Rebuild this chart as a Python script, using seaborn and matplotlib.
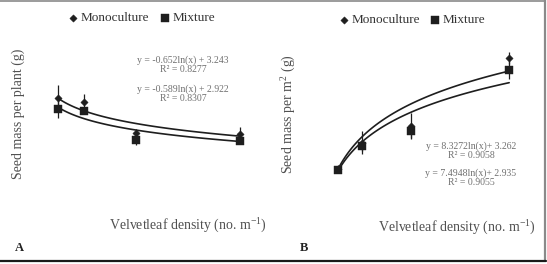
import numpy as np
import pandas as pd
import seaborn as sns
import matplotlib.pyplot as plt
from matplotlib.lines import Line2D

sns.set_theme(style="white")
plt.rcParams['font.family'] = ['Liberation Serif', 'DejaVu Serif']
plt.rcParams['mathtext.fontset'] = 'custom'
plt.rcParams['mathtext.rm'] = 'Liberation Serif'
plt.rcParams['mathtext.it'] = 'Liberation Serif:italic'

# data
density = [1, 2, 4, 8]
a_mono = [3.25, 3.10, 2.00, 1.96]
a_mono_err = [0.46, 0.28, 0.15, 0.25]
a_mix = [2.86, 2.79, 1.75, 1.71]
a_mix_err = [0.33, 0.10, 0.18, 0.10]
b_mono = [3.3, 7.9, 10.9, 22.9]
b_mono_err = [0.6, 2.0, 2.3, 1.1]
b_mix = [3.1, 7.4, 9.9, 20.7]
b_mix_err = [0.6, 1.0, 1.1, 1.6]

# fitted curves y = a*ln(x) + b
a_fit = {'Monoculture': (-0.652, 3.243), 'Mixture': (-0.589, 2.922)}
b_fit = {'Monoculture': (8.3272, 3.262), 'Mixture': (7.4948, 2.935)}
a_eq = ["y = -0.652ln(x) + 3.243\nR² = 0.8277", "y = -0.589ln(x) + 2.922\nR² = 0.8307"]
b_eq = ["y = 8.3272ln(x)+ 3.262\nR² = 0.9058", "y = 7.4948ln(x)+ 2.935\nR² = 0.9055"]

W, H = 547, 264
fig = plt.figure(figsize=(W / 100, H / 100), dpi=100)
fig.patch.set_facecolor('white')

def px_axes(x0, x1, y_top, y_bot):
    return fig.add_axes([x0 / W, 1 - y_bot / H, (x1 - x0) / W, (y_bot - y_top) / H])

ax_a = px_axes(32, 266, 49, 189)
ax_b = px_axes(313.6, 533.6, 46, 187.5)

ink = '#1e1e1e'
markers = {'Monoculture': 'D', 'Mixture': 's'}
sizes = {'Monoculture': 14, 'Mixture': 38}
xs = np.linspace(1, 8, 100)

def draw(ax, mono, mono_err, mix, mix_err, fit, ylim):
    df = pd.DataFrame({
        'density': density * 2,
        'value': mono + mix,
        'err': mono_err + mix_err,
        'group': ['Monoculture'] * 4 + ['Mixture'] * 4,
    })
    ax.errorbar(df['density'], df['value'], yerr=df['err'], fmt='none',
                ecolor=ink, elinewidth=0.9, capsize=0, zorder=2)
    curves = pd.DataFrame({
        'x': np.concatenate([xs, xs]),
        'y': np.concatenate([fit[g][0] * np.log(xs) + fit[g][1] for g in fit]),
        'group': ['Monoculture'] * len(xs) + ['Mixture'] * len(xs),
    })
    sns.lineplot(data=curves, x='x', y='y', units='group', estimator=None,
                 color=ink, linewidth=1.2, ax=ax, legend=False, zorder=3)
    for g in ['Monoculture', 'Mixture']:
        sub = df[df['group'] == g]
        sns.scatterplot(data=sub, x='density', y='value', marker=markers[g],
                        s=sizes[g], color=ink, edgecolor=ink, linewidth=0.3,
                        ax=ax, zorder=4, label=g)
    ax.set_xlim(0, 9)
    ax.set_ylim(*ylim)
    ax.set_xticks([])
    ax.set_yticks([])
    ax.set_xlabel('')
    ax.set_ylabel('')
    for s in ax.spines.values():
        s.set_visible(False)
    ax.patch.set_alpha(0)

draw(ax_a, a_mono, a_mono_err, a_mix, a_mix_err, a_fit, (0, 5))
draw(ax_b, b_mono, b_mono_err, b_mix, b_mix_err, b_fit, (0, 25))

leg_kw = dict(ncol=2, frameon=False, title=None, fontsize=9.5, handlelength=0.8,
              handletextpad=0.15, columnspacing=0.8, labelcolor='#333333')
sns.move_legend(ax_a, 'center', bbox_to_anchor=(141.5 / W, 1 - 18 / H),
                bbox_transform=fig.transFigure, **leg_kw)
sns.move_legend(ax_b, 'center', bbox_to_anchor=(412 / W, 1 - 20 / H),
                bbox_transform=fig.transFigure, **leg_kw)

lab = '#505050'
fig.text(18 / W, 1 - 114 / H, 'Seed mass per plant (g)', rotation=90,
         ha='center', va='center', fontsize=10, color=lab)
fig.text(289 / W, 1 - 114 / H, 'Seed mass per m$^2$ (g)', rotation=90,
         ha='center', va='center', fontsize=10, color=lab)
fig.text(188 / W, 1 - 226 / H, 'Velvetleaf density (no. m$^{-1}$)',
         ha='center', va='center', fontsize=10, color=lab)
fig.text(457 / W, 1 - 228 / H, 'Velvetleaf density (no. m$^{-1}$)',
         ha='center', va='center', fontsize=10, color=lab)
fig.text(19 / W, 1 - 248 / H, 'A', ha='center', va='center', fontsize=9,
         fontweight='bold', color='#222222')
fig.text(304 / W, 1 - 248 / H, 'B', ha='center', va='center', fontsize=9,
         fontweight='bold', color='#222222')

eq_col = '#707070'
for txt, yc in zip(a_eq, [65, 94]):
    fig.text(183 / W, 1 - yc / H, txt, ha='center', va='center', fontsize=7,
             color=eq_col, linespacing=1.05)
for txt, yc in zip(b_eq, [151, 178]):
    fig.text(471 / W, 1 - yc / H, txt, ha='center', va='center', fontsize=7,
             color=eq_col, linespacing=1.05)

# figure frame
fig.add_artist(Line2D([0, 545 / W], [1 - 0.8 / H] * 2, transform=fig.transFigure,
                      color='#8a8a8a', linewidth=1.2))
fig.add_artist(Line2D([544.8 / W] * 2, [1, 1 - 261 / H], transform=fig.transFigure,
                      color='#8a8a8a', linewidth=1.6))
fig.add_artist(Line2D([0, 545.5 / W], [1 - 261 / H] * 2, transform=fig.transFigure,
                      color='#1a1a1a', linewidth=1.6))

fig.savefig('out.png', dpi=100, facecolor='white')
